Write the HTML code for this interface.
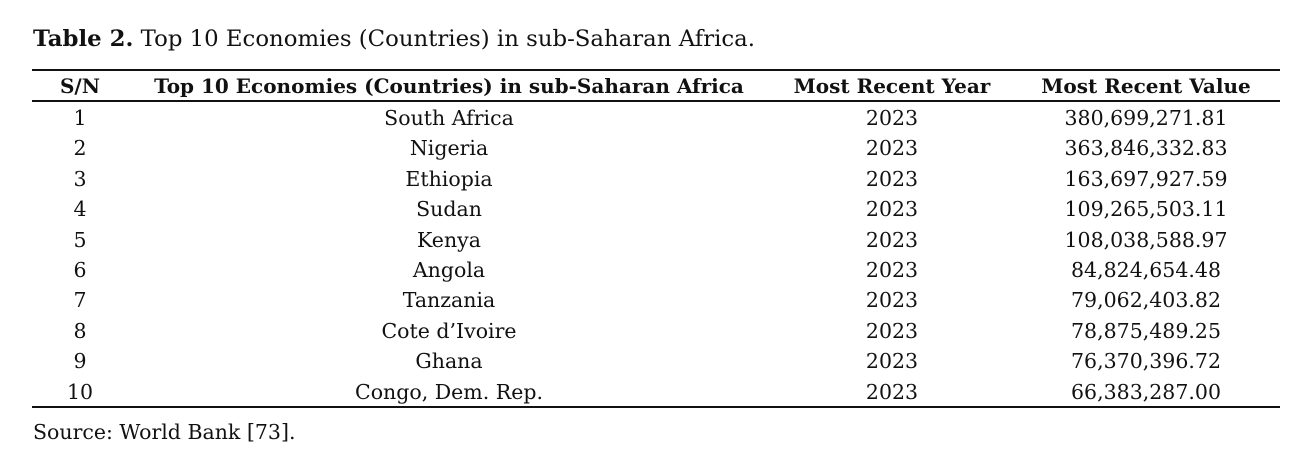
<!DOCTYPE html>
<html><head><meta charset="utf-8"><style>
body{margin:0;width:1310px;height:475px;background:#fff;position:relative;overflow:hidden;font-family:"DejaVu Serif","Liberation Serif",serif;color:#111}
.t{position:absolute;white-space:nowrap;font-size:20.5px;line-height:1}
.c{transform:translateX(-50%)}
.rule{position:absolute;left:32px;width:1248px;background:#111}
b{font-weight:bold}
</style></head><body>
<div class="t" style="left:33px;top:28px;font-size:22.8px"><b>Table 2.</b> Top 10 Economies (Countries) in sub-Saharan Africa.</div>
<div class="rule" style="top:69px;height:2px"></div>
<div class="rule" style="top:100px;height:1.5px"></div>
<div class="rule" style="top:406px;height:2px"></div>
<div id="tbl"></div>
<div class="t" style="left:33px;top:422px">Source: World Bank [73].</div>
<script>
const countries=["South Africa","Nigeria","Ethiopia","Sudan","Kenya","Angola","Tanzania","Cote d’Ivoire","Ghana","Congo, Dem. Rep."];
const years=["2023","2023","2023","2023","2023","2023","2023","2023","2023","2023"];
const values=["380,699,271.81","363,846,332.83","163,697,927.59","109,265,503.11","108,038,588.97","84,824,654.48","79,062,403.82","78,875,489.25","76,370,396.72","66,383,287.00"];
const headers=["S/N","Top 10 Economies (Countries) in sub-Saharan Africa","Most Recent Year","Most Recent Value"];
const colX=[80,449,892,1146];
const tbl=document.getElementById('tbl');
function cell(txt,x,y,bold,name,fs){
  const d=document.createElement('div');
  d.className='t c';d.style.left=x+'px';d.style.top=y+'px';
  if(bold)d.style.fontWeight='bold';
  if(fs)d.style.fontSize=fs+'px';
  d.textContent=txt;
  
  
  tbl.appendChild(d);
}
headers.forEach((h,i)=>cell(h,colX[i],76,true,'header-cell',20));
countries.forEach((c,i)=>{
  const y=108+i*30.4;
  cell(String(i+1),colX[0],y,false,'sn-cell');
  cell(c,colX[1],y,false,'country-cell');
  cell(years[i],colX[2],y,false,'year-cell');
  cell(values[i],colX[3],y,false,'value-cell');
});
</script>
</body></html>
